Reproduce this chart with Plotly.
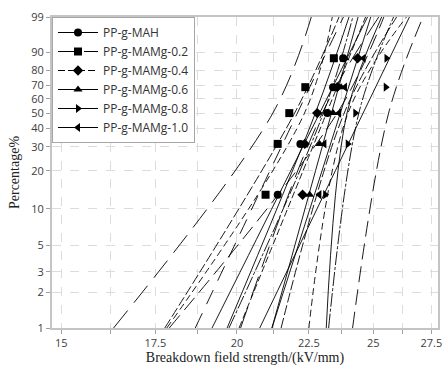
import numpy as np
import plotly.graph_objects as go

# ---------------- data ----------------
series_names = ["PP-g-MAH", "PP-g-MAMg-0.2", "PP-g-MAMg-0.4",
                "PP-g-MAMg-0.6", "PP-g-MAMg-0.8", "PP-g-MAMg-1.0"]

# median-rank probability (%) of the 5 specimens
percent_ranks = [12.96, 31.48, 50.0, 68.52, 87.04]

# breakdown field strength (kV/mm)
strength_mah = [21.38, 22.19, 23.19, 23.41, 23.80]
strength_mamg02 = [20.96, 21.38, 21.79, 22.37, 23.44]
strength_mamg04 = [22.27, 22.35, 22.81, 23.57, 24.37]
strength_mamg06 = [22.53, 22.90, 23.41, 23.72, 23.87]
strength_mamg08 = [23.11, 23.98, 24.28, 25.52, 25.55]
strength_mamg10 = [22.89, 23.08, 23.64, 23.87, 24.61]

# Weibull fit line and confidence bounds, strength read at 1 %, 50 %, 99 %
line_percent = [1, 50, 99]
fit_mah = [19.20, 22.90, 24.77]
low_mah = [17.77, 21.98, 23.64]
up_mah = [21.50, 23.84, 25.98]
fit_mamg02 = [18.68, 22.08, 23.81]
low_mamg02 = [16.34, 21.21, 22.59]
up_mamg02 = [20.12, 23.00, 25.23]
fit_mamg04 = [20.07, 23.16, 24.69]
low_mamg04 = [17.83, 22.34, 23.38]
up_mamg04 = [22.50, 23.99, 26.40]
fit_mamg06 = [21.18, 23.35, 24.39]
low_mamg06 = [19.68, 22.74, 24.03]
up_mamg06 = [23.15, 23.95, 25.35]
fit_mamg08 = [20.76, 24.59, 26.53]
low_mamg08 = [17.90, 23.57, 25.44]
up_mamg08 = [24.17, 25.64, 27.13]
fit_mamg10 = [21.18, 23.69, 24.90]
low_mamg10 = [19.74, 23.04, 24.18]
up_mamg10 = [23.24, 24.42, 25.85]

x_tick_vals = [15, 16.25, 17.5, 18.75, 20, 21.25, 22.5, 23.75, 25, 26.25, 27.5]
x_tick_text = ["15", "", "17.5", "", "20", "", "22.5", "", "25", "", "27.5"]
y_tick_percent = [1, 2, 3, 5, 10, 20, 30, 40, 50, 60, 70, 80, 90, 99]

# ---------------- styling ----------------
symbols = ["circle", "square", "diamond", "triangle-up", "triangle-right", "triangle-left"]
fit_dash = ["solid", "16px,10px", "7px,3px", "solid", "solid", "solid"]
bound_dash = ["10px,3px", "22px,10px", "7px,4px", "solid", "16px,7px", "14px,2px,3px,2px"]

points = [strength_mah, strength_mamg02, strength_mamg04,
          strength_mamg06, strength_mamg08, strength_mamg10]
fits = [fit_mah, fit_mamg02, fit_mamg04, fit_mamg06, fit_mamg08, fit_mamg10]
lows = [low_mah, low_mamg02, low_mamg04, low_mamg06, low_mamg08, low_mamg10]
ups = [up_mah, up_mamg02, up_mamg04, up_mamg06, up_mamg08, up_mamg10]


def weibull_y(pct):
    p = np.asarray(pct, dtype=float) / 100.0
    return np.log(-np.log(1.0 - p))


fig = go.Figure()
line_y = weibull_y(line_percent)

for i, name in enumerate(series_names):
    for arr, dash in ((lows[i], bound_dash[i]), (fits[i], fit_dash[i]), (ups[i], bound_dash[i])):
        fig.add_trace(go.Scatter(
            x=arr, y=line_y, mode="lines", line_shape="spline",
            line=dict(color="black", width=0.9, dash=dash),
            showlegend=False, hoverinfo="skip"))

for i, name in enumerate(series_names):
    # points separated by gaps: no connecting line is drawn, but the
    # legend entry shows line + marker like the reference
    xs, ys = [], []
    for xv, yv in zip(points[i], weibull_y(percent_ranks)):
        xs += [xv, None]
        ys += [yv, None]
    fig.add_trace(go.Scatter(
        x=xs, y=ys, mode="lines+markers", name=name, connectgaps=False,
        line=dict(color="black", width=1.2, dash=fit_dash[i]),
        marker=dict(symbol=symbols[i], size=8, color="black")))

fig.update_layout(
    width=448, height=367,
    margin=dict(l=52, r=6, t=17, b=39),
    paper_bgcolor="white", plot_bgcolor="white",
    font=dict(family="Open Sans", size=11, color="#333333"),
    legend=dict(x=0, y=1, xanchor="left", yanchor="top",
                bgcolor="white", bordercolor="#a6a6a6", borderwidth=1,
                font=dict(family="Open Sans", size=12, color="#333333"),
                tracegroupgap=0, itemwidth=40),
)

fig.update_xaxes(
    type="log", range=[np.log10(14.773), np.log10(27.80)],
    tickmode="array", tickvals=x_tick_vals, ticktext=x_tick_text,
    showgrid=True, gridcolor="#dcdcdc", griddash="dash", gridwidth=1,
    showline=True, linecolor="#c4c4c4", linewidth=2, mirror=True,
    ticks="outside", ticklen=4, tickcolor="#a0a0a0",
    tickfont=dict(family="Open Sans", size=11, color="#404040"),
    title=dict(text="Breakdown field strength/(kV/mm)",
               font=dict(family="Liberation Serif", size=14, color="#222222"),
               standoff=1),
    zeroline=False,
)
fig.update_yaxes(
    range=[float(weibull_y([1])[0]), float(weibull_y([99])[0])],
    tickmode="array", tickvals=weibull_y(y_tick_percent),
    ticktext=[str(v) for v in y_tick_percent],
    showgrid=True, gridcolor="#dcdcdc", griddash="dash", gridwidth=1,
    showline=True, linecolor="#c4c4c4", linewidth=2, mirror=True,
    ticks="outside", ticklen=4, tickcolor="#a0a0a0",
    tickfont=dict(family="Open Sans", size=11, color="#404040"),
    title=dict(text="Percentage%",
               font=dict(family="Liberation Serif", size=14, color="#222222"),
               standoff=8),
    zeroline=False,
)

fig.write_html("out.html",
               config={"displayModeBar": False},
               post_script="document.body.style.margin='0';"
                           "document.body.style.overflow='hidden';")
